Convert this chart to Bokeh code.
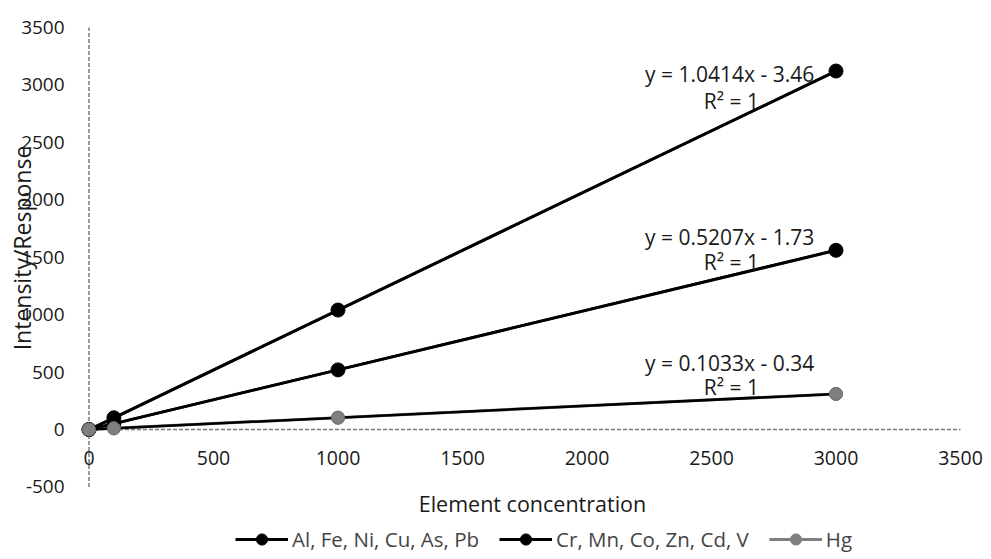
from bokeh.plotting import figure
from bokeh.models import Range1d, Legend, LegendItem
from bokeh.core.properties import value
from bokeh.embed import file_html
from bokeh.resources import INLINE

# ---- data ----
conc = [0, 100, 1000, 3000]
series1 = [0, 102, 1040, 3121]      # Al, Fe, Ni, Cu, As, Pb
series2 = [0, 51, 519, 1560]        # Cr, Mn, Co, Zn, Cd, V
series_hg = [0, 10, 103, 310]       # Hg
names = ["Al, Fe, Ni, Cu, As, Pb", "Cr, Mn, Co, Zn, Cd, V", "Hg"]
slopes = [1.0414, 0.5207, 0.1033]
intercepts = [-3.46, -1.73, -0.34]
x_ticks = [0, 500, 1000, 1500, 2000, 2500, 3000, 3500]
y_ticks = [-500, 0, 500, 1000, 1500, 2000, 2500, 3000, 3500]

FONT = "Open Sans"
W, H = 985, 557

p = figure(width=W, height=H, output_backend="svg", toolbar_location=None,
           x_range=Range1d(-355.4, 3600.4), y_range=Range1d(-1114.4, 3735.0),
           min_border=0)
p.axis.visible = False
p.grid.visible = False
p.outline_line_color = None

# axis lines (Excel axes crossing at 0)
p.line([x_ticks[0], x_ticks[-1]], [0, 0], line_color="#7a7a7a", line_width=1.5, line_dash="4 2")
p.line([0, 0], [y_ticks[0], y_ticks[-1]], line_color="#7a7a7a", line_width=1.5, line_dash="4 2")

TXT = "#1a1a1a"
# tick labels
p.text(x=x_ticks, y=[-252] * len(x_ticks), text=[str(v) for v in x_ticks],
       text_align="center", text_baseline="middle", text_font=value(FONT),
       text_font_size="19.5px", text_color=TXT)
p.text(x=[-98] * len(y_ticks), y=y_ticks, text=[str(v) for v in y_ticks],
       text_align="right", text_baseline="middle", text_font=value(FONT),
       text_font_size="19px", text_color=TXT)

# axis titles
p.text(x=[1781], y=[-644], text=["Element concentration"], text_align="center",
       text_baseline="middle", text_font=value(FONT), text_font_size="21.5px",
       text_color=TXT)
p.text(x=[-270], y=[1580], text=["Intensity/Response"], text_align="center",
       text_baseline="middle", text_font=value(FONT), text_font_size="23px",
       text_color=TXT, angle=1.5708)

# series
colors = ["black", "black", "#7f7f7f"]
ys = [series1, series2, series_hg]
items = []
for i, (yv, c) in enumerate(zip(ys, colors)):
    ln = p.line(conc, yv, line_color=c, line_width=3)
    sc = p.scatter(conc, yv, size=14 if i < 2 else 13, fill_color=c, line_color=c)
    items.append(LegendItem(label=names[i], renderers=[ln, sc]))

# trendlines (black)
for s, b in zip(slopes, intercepts):
    xs = [conc[0], conc[-1]]
    p.line(xs, [s * v + b for v in xs], line_color="black", line_width=2.5)
# hg markers on top
p.scatter(conc, series_hg, size=13, fill_color="#7f7f7f", line_color="#6f6f6f")

# equation labels
eq_y = [3099, 1672, 583]
r2_y = [2864, 1454, 374]
for s, b, ye, yr in zip(slopes, intercepts, eq_y, r2_y):
    p.text(x=[2573], y=[ye], text=[f"y = {s:.4f}x - {abs(b):.2f}"], text_align="center",
           text_baseline="middle", text_font=value(FONT), text_font_size="21px",
           text_color=TXT)
    p.text(x=[2580], y=[yr], text=["R² = 1"], text_align="center",
           text_baseline="middle", text_font=value(FONT), text_font_size="21px",
           text_color=TXT)

legend = Legend(items=items, orientation="horizontal", location=(235, 4),
                label_text_font=FONT, label_text_font_size="20.5px",
                label_height=28, label_text_baseline="middle",
                glyph_width=53, glyph_height=28, label_standoff=4, spacing=20,
                padding=2, margin=0, border_line_color=None,
                background_fill_alpha=0)
p.add_layout(legend, "center")

open("out.html", "w").write(file_html(p, INLINE))
